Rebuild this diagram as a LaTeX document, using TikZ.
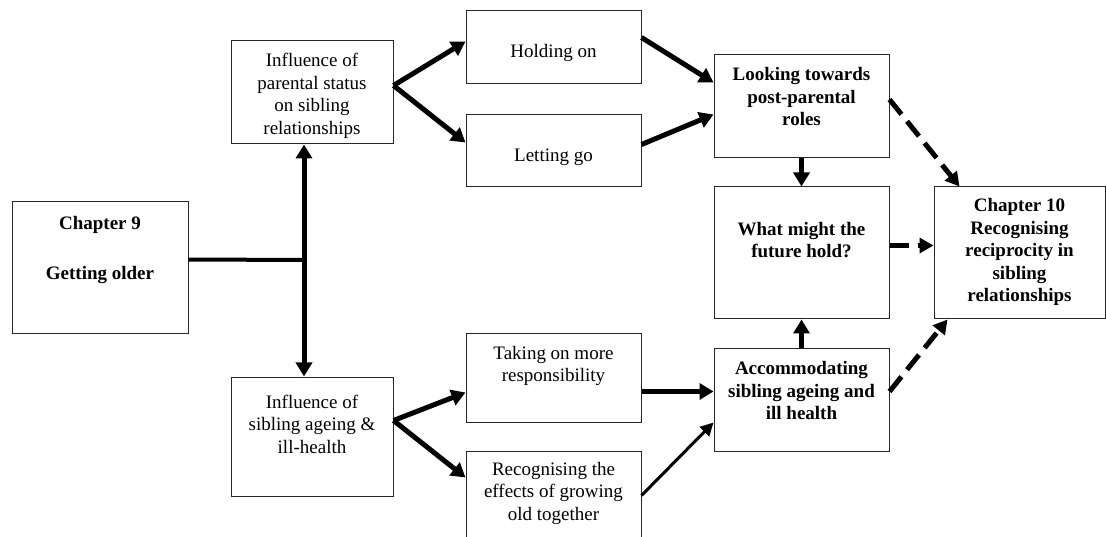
\documentclass[tikz,border=0pt]{standalone}
\usepackage{fontspec}
\setmainfont{Liberation Serif}
\usetikzlibrary{arrows.meta,calc}

\tikzset{
  box/.style={draw=black!85, line width=1pt, inner sep=0pt, rectangle},
  lbl/.style={align=center, inner sep=0pt, font=\fontsize{19}{22.5}\selectfont},
  blbl/.style={lbl, font=\fontsize{19}{22.5}\selectfont\bfseries},
  flow/.style={line width=5pt, -{Triangle[length=14pt,width=16pt]}},
  twoway/.style={line width=5pt, {Triangle[length=14pt,width=16pt]}-{Triangle[length=14pt,width=16pt]}},
  thinflow/.style={line width=3pt, -{Triangle[length=13pt,width=13pt]}},
  dflow/.style={line width=5pt, dash pattern=on 19pt off 9pt,
                -{Triangle[length=14pt,width=15pt]}}
}

\begin{document}
\begin{tikzpicture}[x=1pt, y=-1pt]
\useasboundingbox (0,0) rectangle (1106,537);

% boxes
\node[box, minimum width=176pt, minimum height=132pt] (ch9)  at (100,268) {};
\node[box, minimum width=162pt, minimum height=103pt] (par)  at (312,92.5) {};
\node[box, minimum width=162pt, minimum height=119pt] (sib)  at (312,436.5) {};
\node[box, minimum width=175pt, minimum height=73pt]  (hold) at (553.5,47.5) {};
\node[box, minimum width=175pt, minimum height=72pt]  (let)  at (553.5,151) {};
\node[box, minimum width=175pt, minimum height=88pt]  (take) at (553.5,378) {};
\node[box, minimum width=175pt, minimum height=94pt]  (rec)  at (553.5,498) {};
\node[box, minimum width=175pt, minimum height=103pt] (look) at (801.5,106.5) {};
\node[box, minimum width=175pt, minimum height=132pt] (what) at (801.5,253) {};
\node[box, minimum width=175pt, minimum height=102pt] (acc)  at (801.5,400) {};
\node[box, minimum width=171pt, minimum height=132pt] (ch10) at (1019.5,253) {};

% box texts
\node[blbl] (ch9t)  at (100,250)   {Chapter 9\\[27.5pt]Getting older};
\node[lbl]  (part)  at (312,96)    {Influence of\\parental status\\on sibling\\relationships};
\node[lbl]  (sibt)  at (312,424)   {Influence of\\sibling ageing \&\\ill-health};
\node[lbl]  (holdt) at (553.5,53)  {Holding on};
\node[lbl]  (lett)  at (553.5,157) {Letting go};
\node[lbl]  (taket) at (553.5,366) {Taking on more\\responsibility};
\node[lbl]  (rect)  at (553.5,493) {Recognising the\\effects of growing\\old together};
\node[blbl] (lookt) at (801.5,97)  {Looking towards\\post-parental\\roles};
\node[blbl] (whatt) at (801.5,240) {What might the\\future hold?};
\node[blbl] (acct)  at (801.5,391) {Accommodating\\sibling ageing and\\ill health};
\node[blbl] (ch10t) at (1019.5,252) {Chapter 10\\Recognising\\reciprocity in\\sibling\\relationships};

% junction from Chapter 9
\coordinate (j) at (304,260);
\draw[line width=4pt] ($(ch9.north east)+(0,58)$) -- (j);
\draw[twoway] (j |- par.south) -- (j |- sib.north);

% upper branch
\draw[flow] ($(par.north east)+(0,45)$) -- ($(hold.north west)+(0,31)$);
\draw[flow] ($(par.north east)+(0,45)$) -- ($(let.north west)+(0,28)$);
\draw[flow] ($(hold.north east)+(0,27)$) -- ($(look.north west)+(0,28)$);
\draw[flow] ($(let.north east)+(0,30)$) -- ($(look.north west)+(0,60)$);
\draw[flow] (look.south) -- (what.north);

% lower branch
\draw[flow] ($(sib.north east)+(0,44)$) -- ($(take.north west)+(0,59)$);
\draw[flow] ($(sib.north east)+(0,44)$) -- ($(rec.north west)+(0,27)$);
\draw[flow] ($(take.north east)+(0,58)$) -- ($(acc.north west)+(0,43)$);
\draw[thinflow] ($(rec.north east)+(0,45)$) -- ($(acc.north west)+(0,74)$);
\draw[flow] (acc.north) -- (what.south);

% towards Chapter 10
\draw[dflow] ($(look.north east)+(0,45)$) -- ($(ch10.north west)+(26,0)$);
\draw[dflow] ($(what.north east)+(0,59)$) -- ($(ch10.north west)+(0,59)$);
\draw[dflow] ($(acc.north east)+(0,43)$) -- ($(ch10.south west)+(14,0)$);
\end{tikzpicture}
\end{document}
